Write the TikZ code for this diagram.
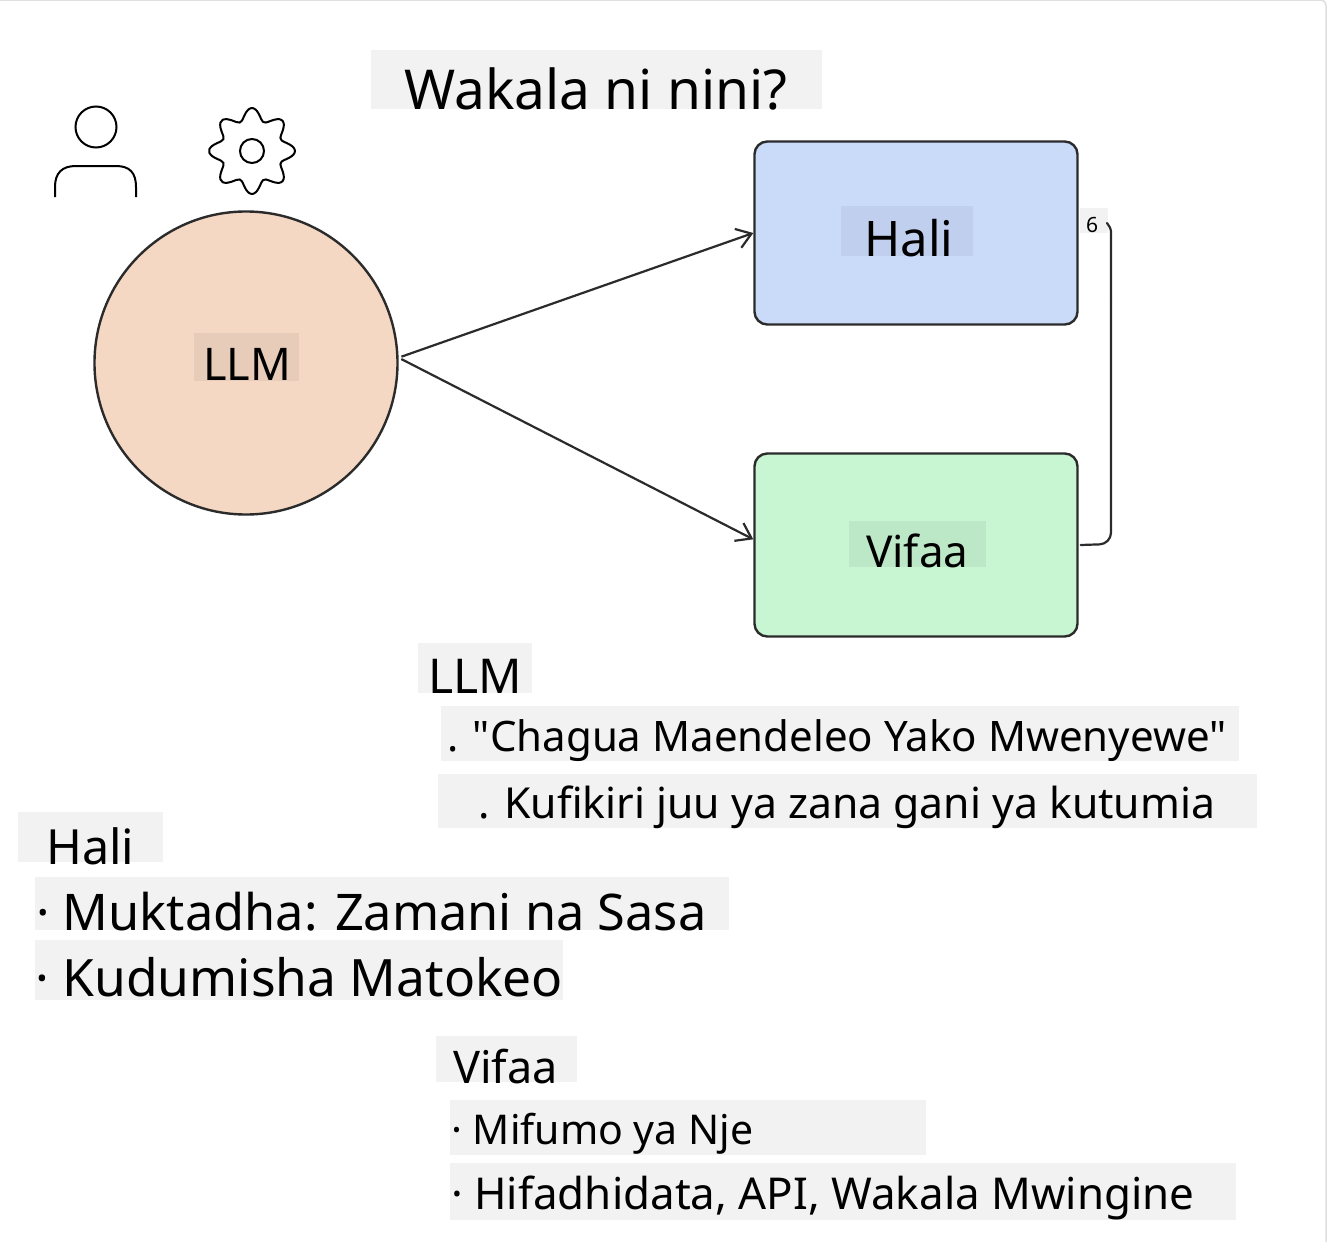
\documentclass[tikz,border=0pt]{standalone}
\usepackage{fontspec}
\setmainfont{Noto Sans}
\newfontfamily\plainquote{Noto Sans}
\usetikzlibrary{arrows.meta}
\definecolor{inkline}{HTML}{2B2B2B}
\definecolor{peach}{HTML}{F4D8C3}
\definecolor{halifill}{HTML}{CADBFA}
\definecolor{vifaafill}{HTML}{C8F5D2}
\tikzset{
	lab/.style = {inner sep = 0pt, anchor = base west, text = black},
	patch/.style = {fill = black, fill opacity = 0.05, draw = none},
	box/.style = {draw = inkline, line width = 2.4pt, rounded corners = 4.5mm, minimum width = 323pt, minimum height = 183pt},
	conn/.style = {draw = inkline, line width = 2.2pt},
	tip/.style = {-{Straight Barb[length = 5mm, width = 7mm, line width = 2.2pt]}}
}
\begin{document}
\begin{tikzpicture}[x = 1pt, y = -1pt]
	\useasboundingbox (0,0) rectangle (1334,1242);
	\fill [white] (0,0) rectangle (1334,1242);
	\draw [gray!25, line width = 1.5pt, rounded corners = 2mm] (-3,0) -- (1326,0) -- (1326,1245);

	% shapes
	\node (llm) [circle, draw = inkline, line width = 2.4pt, fill = peach, minimum size = 303pt, inner sep = 0pt] at (246,363) {};
	\node (hali) [box, fill = halifill] at (916,233) {};
	\node (vifaa) [box, fill = vifaafill] at (916,545) {};

	% grey patches behind the texts
	\foreach \xa/\ya/\xb/\yb in {371/50/822/109, 841/206/973/256, 849/521/986/567, 194/333/299/381, 418/643/532/693, 441/706/1239/761, 438/774/1257/828, 18/812/163/862, 35/877/729/930, 35/940/563/1000, 436/1036/577/1082, 450/1100/926/1155, 450/1163/1236/1220, 1080/208/1108/233}{
			\fill [patch] (\xa,\ya) rectangle (\xb,\yb);
		}

	% arrows
	\draw [conn, tip, shorten <= 3pt] (llm.2) -- (hali.west);
	\draw [conn, tip, shorten <= 3pt] (llm.2) -- (vifaa.178);
	\coordinate (haliend) at (1107,223);
	\draw [conn, line cap = round, rounded corners = 4mm] (vifaa.east) ++(2,0) -- (1111,544) -- (1111,300);
	\draw [conn, line cap = round, rounded corners = 1mm] (1111,300) -- (1111,229) -- (haliend);

	% person
	\node (head) [circle, draw = black, line width = 2pt, minimum size = 41pt, inner sep = 0pt] at (96,127) {};
	\draw [draw = black, line width = 2pt] (55,197) -- (55,187) .. controls (55,173) and (62,166) .. (76,166) -- (116,166) .. controls (130,166) and (136,173) .. (136,187) -- (136,197);

	% gear
	\node (hub) [circle, draw = black, line width = 2pt, minimum size = 24pt, inner sep = 0pt] at (252,151) {};
	\draw [draw = black, line width = 2pt] plot [smooth cycle, samples = 73, domain = 0:355, variable = \a] ({252+(37+6*cos(8*\a))*cos(\a)},{151+(37+6*cos(8*\a))*sin(\a)});

	% texts
	\node (title) [lab, font = \fontsize{55}{55}\selectfont] at (404,109) {Wakala ni nini?};
	\node (halilab) [lab, font = \fontsize{49}{49}\selectfont] at (864,256) {Hali};
	\node (vifaalab) [lab, font = \fontsize{44}{44}\selectfont] at (866,567) {Vifaa};
	\node (llmlab) [lab, font = \fontsize{45}{45}\selectfont] at (203,380) {LLM};
	\node (sixlab) [lab, font = \fontsize{21}{21}\selectfont] at (1086,232) {6};
	\node (llmhead) [lab, font = \fontsize{48}{48}\selectfont] at (428,693) {LLM};
	\node (llmone) [lab, font = \fontsize{42}{42}\plainquote] at (447,751) {. "Chagua Maendeleo Yako Mwenyewe"};
	\node (llmtwo) [lab, font = \fontsize{42.7}{42.7}\selectfont] at (478,818) {. Kufikiri juu ya zana gani ya kutumia};
	\node (halihead) [lab, font = \fontsize{48.5}{48.5}\selectfont] at (46,864) {Hali};
	\node (halione) [lab, font = \fontsize{50.5}{50.5}\selectfont] at (36,930) {· Muktadha: Zamani na Sasa};
	\node (halitwo) [lab, font = \fontsize{51.5}{51.5}\selectfont] at (35,996) {· Kudumisha Matokeo};
	\node (vifaahead) [lab, font = \fontsize{45}{45}\selectfont] at (453,1083) {Vifaa};
	\node (vifaaone) [lab, font = \fontsize{41}{41}\selectfont] at (451,1144) {· Mifumo ya Nje};
	\node (vifaatwo) [lab, font = \fontsize{43.9}{43.9}\selectfont] at (451,1209) {· Hifadhidata, API, Wakala Mwingine};
\end{tikzpicture}
\end{document}
